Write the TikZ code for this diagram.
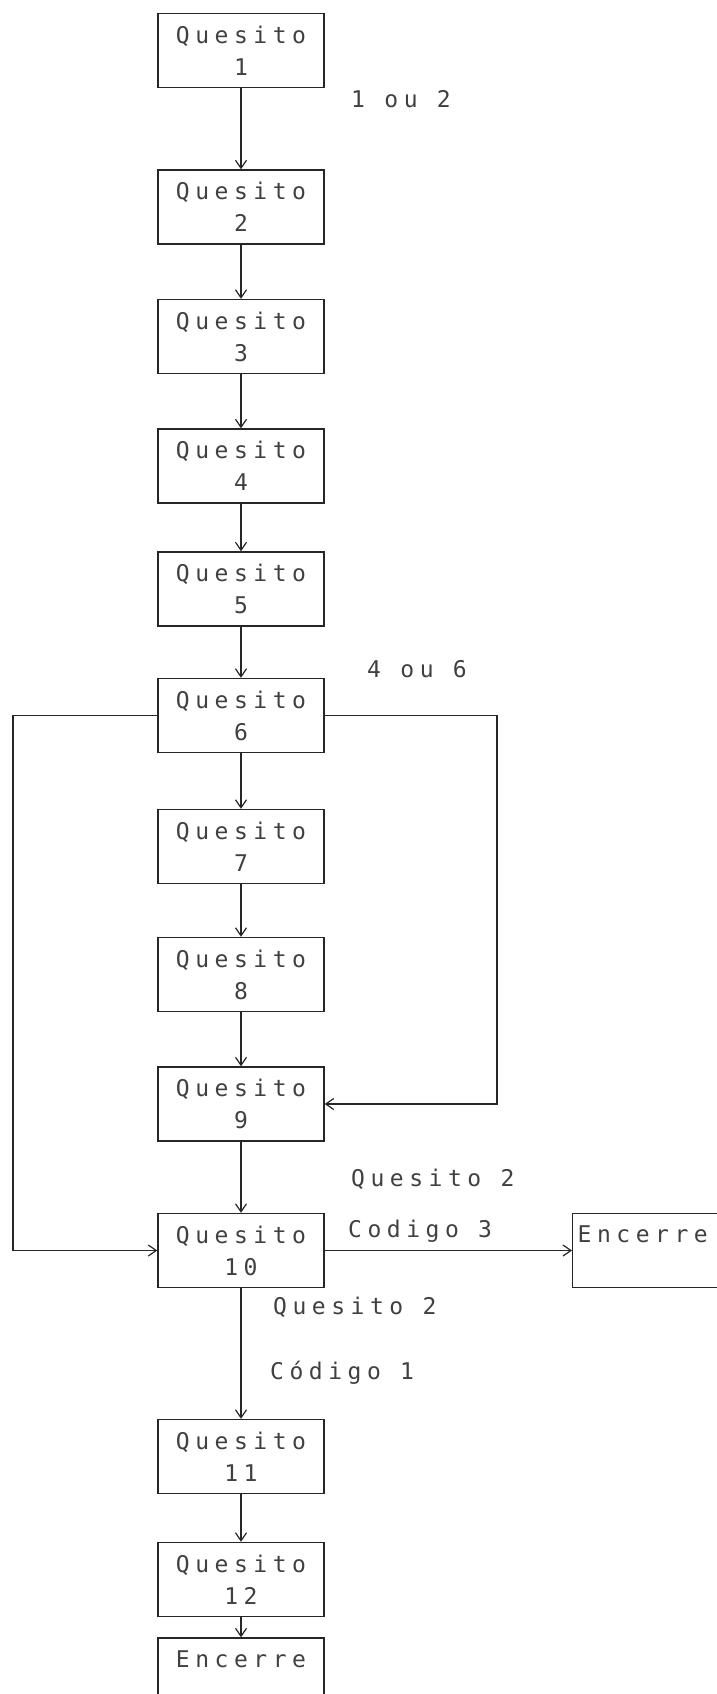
\documentclass[tikz,border=0pt]{standalone}
\usepackage{fontspec}
\newfontfamily\dm[LetterSpace=24]{DejaVu Sans Mono}
\usetikzlibrary{arrows.meta}
\colorlet{ink}{black!85}
\tikzset{
  qbox/.style={draw=ink, line width=1.4pt, minimum width=166pt, minimum height=74pt,
    align=center, inner sep=2pt, text=black!75, font=\dm\fontsize{23}{32}\selectfont},
  lbl/.style={text=black!75, font=\dm\fontsize{23}{32}\selectfont, anchor=west, inner sep=0pt},
  conn/.style={draw=ink, line width=1.3pt},
  arr/.style={conn, -{Straight Barb[length=8pt,width=11pt,line width=1.2pt]}}
}
\begin{document}
\begin{tikzpicture}[x=1pt,y=-1pt]
\useasboundingbox (0,0) rectangle (717,1694);
\clip (0,0) rectangle (717,1694);
\node[qbox] (b1)  at (241,50.5)  {Quesito\\1};
\node[qbox] (b2)  at (241,207)   {Quesito\\2};
\node[qbox] (b3)  at (241,336.5) {Quesito\\3};
\node[qbox] (b4)  at (241,466)   {Quesito\\4};
\node[qbox] (b5)  at (241,589)   {Quesito\\5};
\node[qbox] (b6)  at (241,715.5) {Quesito\\6};
\node[qbox] (b7)  at (241,846.5) {Quesito\\7};
\node[qbox] (b8)  at (241,974.5) {Quesito\\8};
\node[qbox] (b9)  at (241,1104)  {Quesito\\9};
\node[qbox] (b10) at (241,1250.5){Quesito\\10};
\node[qbox] (b11) at (241,1456.5){Quesito\\11};
\node[qbox] (b12) at (241,1579.5){Quesito\\12};
\node[qbox] (enc) at (241,1675)  {Encerre\\\phantom{1}};
\node[qbox, anchor=west, minimum width=200pt, text width=190pt, align=left] (encR) at (572,1250.5) {Encerre\\\phantom{1}};

\node[lbl] (l1) at (351,99)   {1 ou 2};
\node[lbl] (l2) at (367,669)  {4 ou 6};
\node[lbl] (l3) at (351,1179) {Quesito 2};
\node[lbl] (l4) at (348,1231) {Codigo 3};
\node[lbl] (l5) at (273,1307) {Quesito 2};
\node[lbl] (l6) at (270,1373) {Código 1};

\coordinate (lx) at (13,0);
\coordinate (rx) at (497,0);

\draw[arr] (b1) -- (b2);
\draw[arr] (b2) -- (b3);
\draw[arr] (b3) -- (b4);
\draw[arr] (b4) -- (b5);
\draw[arr] (b5) -- (b6);
\draw[arr] (b6) -- (b7);
\draw[arr] (b7) -- (b8);
\draw[arr] (b8) -- (b9);
\draw[arr] (b9) -- (b10);
\draw[arr] (b10) -- (b11);
\draw[arr] (b11) -- (b12);
\draw[arr] (b12) -- (enc);
\draw[arr] (b6.west) -- (lx |- b6.west) |- (b10.west);
\draw[arr] (b6.east) -- (rx |- b6.east) |- (b9.east);
\draw[arr] (b10.east) -- (encR.west);
\end{tikzpicture}
\end{document}
